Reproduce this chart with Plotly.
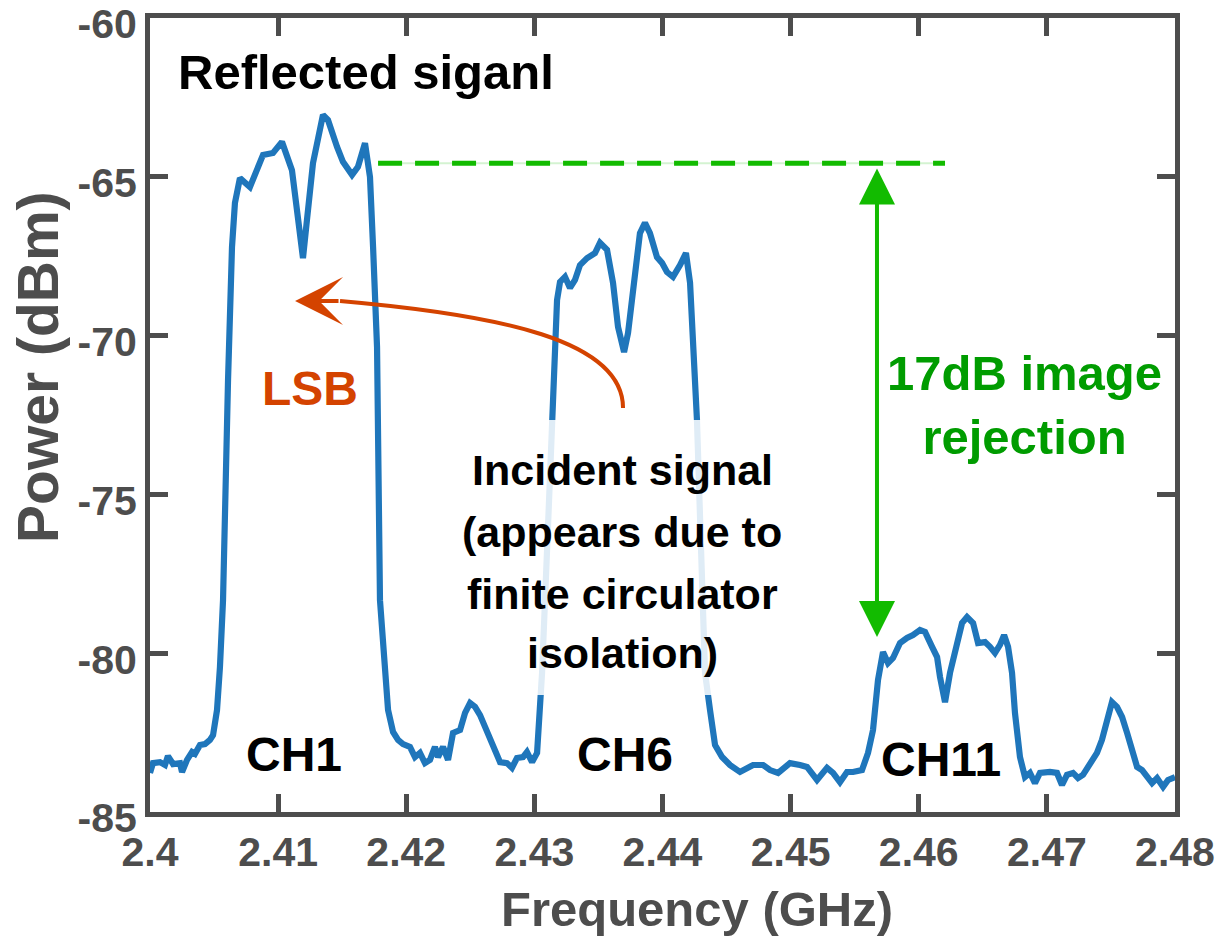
import plotly.graph_objects as go

# ---- data ----
freq_ghz = [2.40000, 2.40023, 2.40078, 2.40117, 2.40140, 2.40180, 2.40234, 2.40250, 2.40289, 2.40328,
            2.40351, 2.40390, 2.40429, 2.40468, 2.40492, 2.40523, 2.40546, 2.40570, 2.40609, 2.40640,
            2.40663, 2.40702, 2.40780, 2.40820, 2.40882, 2.40960, 2.41030, 2.41108, 2.41155, 2.41194,
            2.41225, 2.41272, 2.41350, 2.41389, 2.41460, 2.41506, 2.41577, 2.41623, 2.41678, 2.41717,
            2.41741, 2.41772, 2.41795, 2.41858, 2.41897, 2.41936, 2.41975, 2.42029, 2.42068, 2.42107,
            2.42146, 2.42185, 2.42224, 2.42248, 2.42287, 2.42326, 2.42365, 2.42420, 2.42459, 2.42498,
            2.42537, 2.42576, 2.42615, 2.42654, 2.42693, 2.42732, 2.42786, 2.42825, 2.42864, 2.42911,
            2.42942, 2.42982, 2.43021, 2.43044, 2.43060, 2.43099, 2.43145, 2.43177, 2.43200, 2.43239,
            2.43278, 2.43317, 2.43356, 2.43411, 2.43473, 2.43512, 2.43567, 2.43614, 2.43653, 2.43700,
            2.43731, 2.43785, 2.43824, 2.43863, 2.43902, 2.43957, 2.43996, 2.44035, 2.44082, 2.44137,
            2.44183, 2.44215, 2.44238, 2.44269, 2.44301, 2.44332, 2.44371, 2.44410, 2.44465, 2.44527,
            2.44605, 2.44660, 2.44707, 2.44785, 2.44839, 2.44902, 2.44995, 2.45073, 2.45128, 2.45206,
            2.45284, 2.45331, 2.45385, 2.45440, 2.45487, 2.45557, 2.45604, 2.45643, 2.45682, 2.45721,
            2.45760, 2.45799, 2.45854, 2.45908, 2.45955, 2.46010, 2.46049, 2.46104, 2.46143, 2.46166,
            2.46205, 2.46244, 2.46299, 2.46338, 2.46377, 2.46424, 2.46463, 2.46517, 2.46556, 2.46595,
            2.46634, 2.46666, 2.46697, 2.46728, 2.46751, 2.46790, 2.46829, 2.46868, 2.46907, 2.46946,
            2.47024, 2.47079, 2.47118, 2.47157, 2.47204, 2.47243, 2.47282, 2.47337, 2.47391, 2.47430,
            2.47469, 2.47508, 2.47547, 2.47587, 2.47626, 2.47665, 2.47704, 2.47743, 2.47782, 2.47821,
            2.47860, 2.47907, 2.47946, 2.48000]
power_dbm = [-83.77, -83.46, -83.43, -83.52, -83.24, -83.49, -83.46, -83.74, -83.36, -83.11,
             -83.17, -82.89, -82.86, -82.73, -82.58, -81.79, -80.43, -78.33, -71.40, -67.21,
             -65.82, -65.04, -65.32, -64.88, -64.31, -64.25, -63.90, -64.79, -66.14, -67.56,
             -66.36, -64.57, -63.05, -63.21, -64.06, -64.53, -64.94, -64.69, -63.94, -65.01,
             -67.21, -70.36, -78.33, -81.79, -82.48, -82.73, -82.86, -82.95, -83.27, -83.14,
             -83.46, -83.36, -82.95, -83.27, -82.95, -83.36, -82.51, -82.42, -81.88, -81.57,
             -81.69, -81.95, -82.32, -82.73, -83.14, -83.43, -83.46, -83.61, -83.30, -83.27,
             -83.11, -83.43, -83.14, -81.47, -80.62, -76.75, -72.66, -68.88, -68.31, -68.15,
             -68.50, -68.25, -67.78, -67.56, -67.40, -67.08, -67.30, -68.34, -69.73, -70.52,
             -69.92, -67.84, -66.77, -66.45, -66.77, -67.53, -67.71, -68.00, -68.15, -67.78,
             -67.40, -68.34, -70.14, -72.66, -76.75, -80.62, -81.79, -82.89, -83.27, -83.52,
             -83.74, -83.61, -83.52, -83.52, -83.68, -83.77, -83.46, -83.52, -83.58, -83.99,
             -83.61, -83.77, -84.06, -83.74, -83.74, -83.68, -83.14, -82.42, -80.84, -79.96,
             -80.31, -80.15, -79.68, -79.52, -79.43, -79.27, -79.33, -79.80, -80.12, -80.75,
             -81.54, -80.62, -79.58, -79.05, -78.86, -79.05, -79.68, -79.65, -79.80, -79.99,
             -79.74, -79.43, -79.80, -80.62, -81.88, -83.27, -83.90, -83.77, -84.09, -83.77,
             -83.74, -83.77, -84.15, -83.83, -83.77, -83.93, -83.83, -83.52, -83.14, -82.73,
             -82.20, -81.54, -81.69, -82.01, -82.51, -83.14, -83.58, -83.68, -83.93, -84.09,
             -83.93, -84.21, -83.99, -83.90]

x_ticks = [2.40, 2.41, 2.42, 2.43, 2.44, 2.45, 2.46, 2.47, 2.48]
x_tick_labels = ["2.4", "2.41", "2.42", "2.43", "2.44", "2.45", "2.46", "2.47", "2.48"]
y_ticks = [-85, -80, -75, -70, -65, -60]
y_tick_labels = ["-85", "-80", "-75", "-70", "-65", "-60"]

# annotation anchors (data units)
ref_level = -64.57          # dashed reference level
rej_top, rej_bottom = -64.69, -79.49
rej_x = 2.45674
dash_x = [2.41780, 2.46205]
channel_labels = ["CH1", "CH6", "CH11"]
channel_x = [2.41124, 2.43707, 2.46174]
channel_y = [-83.20, -83.20, -83.36]
incident_lines = ["Incident signal", "(appears due to", "finite circulator", "isolation)"]
incident_x = 2.43684
incident_y = [-74.23, -76.18, -78.13, -80.00]
incident_box_x = [2.42381, 2.44995]
incident_box_y = [-81.32, -72.66]

# ---- styles ----
AX = "#4d4d4d"
BLUE = "#1f76bb"
GREEN = "#12bb00"
GREEN_TXT = "#009c00"
ORANGE = "#d44300"
FONT = "Arial, Liberation Sans, sans-serif"

fig = go.Figure()

# faint guide under dashed line
fig.add_trace(go.Scatter(x=dash_x, y=[ref_level, ref_level], mode="lines",
                         line=dict(color="rgba(18,187,0,0.18)", width=2),
                         hoverinfo="skip", showlegend=False))
fig.add_trace(go.Scatter(x=dash_x, y=[ref_level, ref_level], mode="lines",
                         line=dict(color=GREEN, width=5, dash="24px,13px"),
                         hoverinfo="skip", showlegend=False))

fig.add_trace(go.Scatter(x=freq_ghz, y=power_dbm, mode="lines",
                         line=dict(color=BLUE, width=6.2), showlegend=False))

# translucent white box behind the "Incident signal" text
fig.add_shape(type="rect", xref="x", yref="y", layer="above",
              x0=incident_box_x[0], x1=incident_box_x[1],
              y0=incident_box_y[0], y1=incident_box_y[1],
              fillcolor="rgba(255,255,255,0.86)", line=dict(width=0))

# orange curved arrow
fig.add_shape(type="path", xref="x", yref="y",
              path="M 2.43692,-72.28 C 2.43692,-70.14 2.42732,-69.35 2.41483,-68.91",
              line=dict(color=ORANGE, width=4))
fig.add_annotation(x=2.41132, y=-68.91, ax=2.41483, ay=-68.91, axref="x", ayref="y",
                   xref="x", yref="y", text="", showarrow=True, arrowhead=3,
                   arrowsize=2.0, arrowwidth=4, arrowcolor=ORANGE)

# green double arrow
fig.add_annotation(x=rej_x, y=rej_bottom, ax=rej_x, ay=rej_top, axref="x", ayref="y",
                   xref="x", yref="y", text="", showarrow=True, arrowside="end+start",
                   arrowhead=2, startarrowhead=2, arrowsize=1.8, startarrowsize=1.8,
                   arrowwidth=4, arrowcolor=GREEN)

def txt(x, y, s, size, color="black", xanchor="center"):
    fig.add_annotation(x=x, y=y, xref="x", yref="y", text=s, showarrow=False,
                       xanchor=xanchor, yanchor="middle", align="center",
                       font=dict(family=FONT, size=size, color=color, weight="bold"))

txt(2.40200, -61.70, "Reflected siganl", 49, xanchor="left")
txt(2.41249, -71.65, "LSB", 48, color=ORANGE)
for line, ly in zip(incident_lines, incident_y):
    txt(incident_x, ly, line, 43)
for lab, cx, cy in zip(channel_labels, channel_x, channel_y):
    txt(cx, cy, lab, 48)
txt(2.46829, -72.19, "17dB image<br>rejection", 49, color=GREEN_TXT)

# axis titles placed as in the reference (slightly off-centre)
fig.add_annotation(xref="paper", yref="paper", x=0.5337, y=-0.1225, text="Frequency (GHz)",
                   showarrow=False, xanchor="center", yanchor="middle",
                   font=dict(family=FONT, size=49, color=AX, weight="bold"))
fig.add_annotation(xref="paper", yref="paper", x=-0.1093, y=0.5605, text="Power (dBm)",
                   showarrow=False, xanchor="center", yanchor="middle", textangle=-90,
                   font=dict(family=FONT, size=57, color=AX, weight="bold"))

fig.update_layout(
    width=1229, height=937,
    margin=dict(l=150, r=54, t=18, b=125, autoexpand=False),
    paper_bgcolor="white", plot_bgcolor="white",
    showlegend=False,
)
fig.update_xaxes(range=[2.4, 2.48], tickvals=x_ticks, ticktext=x_tick_labels,
                 showgrid=False, zeroline=False, showline=True, linecolor=AX, linewidth=5,
                 mirror="ticks", ticks="inside", ticklen=18, tickwidth=5, tickcolor=AX,
                 ticklabeloverflow="allow", automargin=False,
                 tickfont=dict(family=FONT, size=41, color=AX, weight="bold"))
fig.update_yaxes(range=[-85, -60], tickvals=y_ticks, ticktext=y_tick_labels,
                 showgrid=False, zeroline=False, showline=True, linecolor=AX, linewidth=5,
                 mirror="ticks", ticks="inside", ticklen=18, tickwidth=5, tickcolor=AX,
                 ticklabeloverflow="allow", automargin=False, ticklabelshift=6,
                 tickfont=dict(family=FONT, size=41, color=AX, weight="bold"))

fig.write_html("out.html", config={"displayModeBar": False},
               post_script="document.body.style.margin='0';")
